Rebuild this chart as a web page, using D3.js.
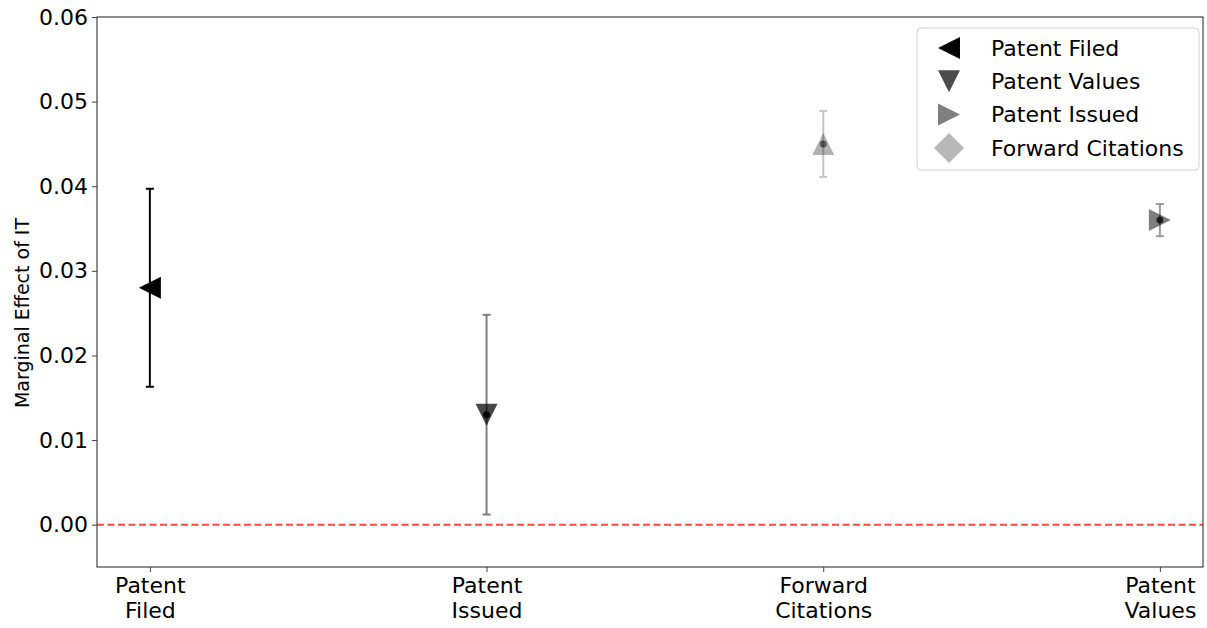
<!DOCTYPE html>
<html><head><meta charset="utf-8">
<script src="https://cdn.jsdelivr.net/npm/d3@7"></script>
<style>body{margin:0;background:#fff}svg{display:block}text{font-family:"DejaVu Sans",sans-serif}</style>
</head><body>
<script>
const categories = ["Patent Filed", "Patent Issued", "Forward Citations", "Patent Values"];
const categoryLines = [["Patent", "Filed"], ["Patent", "Issued"], ["Forward", "Citations"], ["Patent", "Values"]];
const estimates = [0.028, 0.013, 0.045, 0.036];
const lowerCI = [0.0163, 0.0012, 0.0411, 0.0341];
const upperCI = [0.0397, 0.0248, 0.0489, 0.0379];
const pointMarkers = ["left", "down", "up", "right"];
const pointAlpha = [1, 0.72, 0.3, 0.5];
const barAlpha = [1, 0.5, 0.22, 0.4];
const legendLabels = ["Patent Filed", "Patent Values", "Patent Issued", "Forward Citations"];
const legendMarkers = ["left", "down", "right", "diamond"];
const legendAlpha = [1, 0.7, 0.5, 0.28];
const yTicks = [0.00, 0.01, 0.02, 0.03, 0.04, 0.05, 0.06];

const W = 1207, H = 628;
const m = {left: 97, right: 1203, top: 17, bottom: 567};
const svg = d3.select("body").append("svg").attr("width", W).attr("height", H);

const x = d3.scaleLinear().domain([-0.157, 3.128]).range([m.left, m.right]);
const y = d3.scaleLinear().domain([-0.005, 0.06]).range([m.bottom, m.top]);

function markerPath(type, r) {
  if (type === "diamond") return `M0,${-r}L${r},0L0,${r}L${-r},0Z`;
  if (type === "up") return `M0,${-r}L${r},${r}L${-r},${r}Z`;
  if (type === "down") return `M0,${r}L${r},${-r}L${-r},${-r}Z`;
  if (type === "left") return `M${-r},0L${r},${-r}L${r},${r}Z`;
  if (type === "right") return `M${r},0L${-r},${-r}L${-r},${r}Z`;
}

// zero line
svg.append("line").attr("x1", m.left).attr("x2", m.right)
  .attr("y1", y(0)).attr("y2", y(0))
  .attr("stroke", "#ff2a2a").attr("stroke-width", 2).attr("stroke-dasharray", "7,3.5").attr("opacity", 0.85);

// error bars
const g = svg.append("g");
categories.forEach((c, i) => {
  const cx = x(i);
  const eg = g.append("g").attr("opacity", barAlpha[i]);
  eg.append("line").attr("x1", cx).attr("x2", cx).attr("y1", y(lowerCI[i])).attr("y2", y(upperCI[i]))
    .attr("stroke", "#000").attr("stroke-width", 2);
  [lowerCI[i], upperCI[i]].forEach(v => {
    eg.append("line").attr("x1", cx - 4).attr("x2", cx + 4).attr("y1", y(v)).attr("y2", y(v))
      .attr("stroke", "#000").attr("stroke-width", 2);
  });
  g.append("path").attr("d", markerPath(pointMarkers[i], 11))
    .attr("transform", `translate(${cx},${y(estimates[i])})`)
    .attr("fill", "#000").attr("opacity", pointAlpha[i]);
  g.append("circle").attr("cx", cx).attr("cy", y(estimates[i])).attr("r", 3.5)
    .attr("fill", "#000").attr("opacity", Math.min(1, pointAlpha[i] + 0.2));
});

// axes frame
svg.append("rect").attr("x", m.left).attr("y", m.top).attr("width", m.right - m.left).attr("height", m.bottom - m.top)
  .attr("fill", "none").attr("stroke", "#444").attr("stroke-width", 1.2);

// y axis
const yAxis = svg.append("g").attr("transform", `translate(${m.left},0)`)
  .call(d3.axisLeft(y).tickValues(yTicks).tickFormat(d3.format(".2f")).tickSize(5).tickPadding(4));
yAxis.select(".domain").remove();
yAxis.selectAll("line").attr("stroke", "#444");
yAxis.selectAll("text").attr("font-size", 22).attr("fill", "#000").attr("font-family", "DejaVu Sans");

// x axis
const xAxis = svg.append("g").attr("transform", `translate(0,${m.bottom})`)
  .call(d3.axisBottom(x).tickValues(d3.range(categories.length)).tickFormat("").tickSize(5));
xAxis.select(".domain").remove();
xAxis.selectAll("line").attr("stroke", "#444");
xAxis.selectAll(".tick").each(function(d) {
  const t = d3.select(this).append("text").attr("text-anchor", "middle").attr("font-size", 22).attr("fill", "#000");
  categoryLines[d].forEach((ln, k) => {
    t.append("tspan").attr("x", 0).attr("y", 26 + k * 25).text(ln);
  });
});

// y label
svg.append("text").attr("transform", `translate(29,${(y(0.06) + y(-0.005)) / 2 + 21}) rotate(-90)`)
  .attr("text-anchor", "middle").attr("font-size", 19).attr("fill", "#000").text("Marginal Effect of IT");

// legend
const lg = svg.append("g");
lg.append("rect").attr("x", 917).attr("y", 28).attr("width", 282).attr("height", 142).attr("rx", 4)
  .attr("fill", "#fff").attr("fill-opacity", 0.8).attr("stroke", "#d0d0d0").attr("stroke-width", 1);
legendLabels.forEach((lab, i) => {
  const cy = 48 + i * 33.3;
  lg.append("path").attr("d", markerPath(legendMarkers[i], legendMarkers[i] === "diamond" ? 15 : 11))
    .attr("transform", `translate(949,${cy})`).attr("fill", "#000").attr("opacity", legendAlpha[i]);
  lg.append("text").attr("x", 991).attr("y", cy).attr("dy", "0.35em").attr("font-size", 22).attr("fill", "#000").text(lab);
});
</script>
</body></html>
